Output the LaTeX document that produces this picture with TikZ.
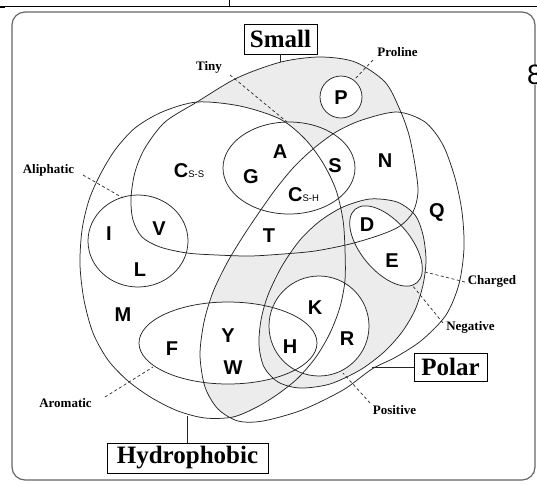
\documentclass[tikz,border=0pt]{standalone}
\usepackage{fontspec}
\setmainfont{Liberation Serif}
\newfontfamily\hv{Liberation Sans}
\definecolor{shadegray}{gray}{0.925}
\begin{document}
\begin{tikzpicture}[x=1pt,y=-1pt,
  outline/.style={draw=black!85,line width=0.75pt},
  aa/.style={font=\hv\bfseries\fontsize{20}{20}\selectfont,inner sep=0pt,text height=14.4pt,text depth=0pt},
  lbl/.style={font=\bfseries\fontsize{13}{13}\selectfont,inner sep=0pt},
  setbox/.style={draw=black,line width=0.8pt,font=\bfseries\fontsize{25}{25}\selectfont,inner sep=0pt},
  lead/.style={draw=black!85,line width=0.7pt,dash pattern=on 3pt off 2.5pt},
  conn/.style={draw=black!85,line width=0.8pt}]
\useasboundingbox (0,0) rectangle (537,483);

\def\pSmall{plot[smooth cycle] coordinates {(197,102) (237,78) (281,62) (320,57) (355,62) (385,82) (400,110) (409,135) (415,165) (418,192) (413,212) (400,226) (380,235) (350,244) (315,251) (283,254) (250,256) (217,255) (187,253) (160,247) (142,237) (133,220) (131,198) (135,172) (145,148) (165,122)}}
\def\pHydro{plot[smooth cycle] coordinates {(197,102) (240,106) (280,119) (305,139) (323,163) (336,190) (343,220) (345,250) (345,280) (340,307) (330,333) (316,357) (298,378) (278,394) (257,407) (233,417) (205,418) (178,411) (152,398) (128,381) (108,360) (93,333) (84,300) (80,265) (82,230) (89,200) (100,175) (115,150) (135,128) (162,112)}}
\def\pPolar{plot[smooth cycle] coordinates {(397,112) (425,122) (443,145) (455,178) (462,212) (464,248) (459,284) (446,315) (422,340) (396,357) (372,369) (343,390) (302,410) (263,421) (238,421) (218,409) (205,387) (200,355) (204,322) (213,292) (227,263) (242,238) (258,214) (275,190) (293,168) (313,149) (336,132) (362,120)}}
\def\pCharged{plot[smooth cycle] coordinates {(343,207) (370,199) (397,202) (415,215) (423,235) (426,260) (423,285) (415,310) (402,332) (384,352) (360,370) (330,384) (300,388) (278,382) (264,367) (259,345) (261,320) (268,295) (282,266) (300,240) (320,221)}}
\def\pPro{(341,97) circle (21)}
\def\pArom{(228,343) ellipse (89 and 41)}
\def\pPos{(319,326) circle (50)}
\def\pTiny{(289,168) ellipse (66 and 46)}
\def\pAli{(138,241) ellipse (50 and 46)}

% top rule and frame
\draw[line width=1pt] (0,6) -- (537,6);
\draw[line width=1pt] (229,0) -- (229,6);
\draw[line width=1pt] (0,7.5) -- (5,7.5);
\draw[black!60,line width=1.2pt,rounded corners=13pt] (12,12) rectangle (535,480);

% shaded (empty) regions
\begin{scope}
  \clip \pSmall;
  \fill[shadegray] (0,0) rectangle (537,483);
  \fill[white] \pHydro;
  \fill[white] \pPolar;
  \fill[white] \pPro;
\end{scope}
\begin{scope}
  \clip \pPolar;
  \fill[shadegray] \pHydro;
  \fill[white] \pSmall;
  \fill[white] \pArom;
  \fill[white] \pCharged;
\end{scope}
\fill[shadegray] \pCharged;
\fill[white] \pPos;
\fill[white,rotate around={-50:(386,246)}] (386,246) ellipse (48 and 25);

% outlines
\draw[outline] \pSmall;
\draw[outline] \pHydro;
\draw[outline] \pPolar;
\draw[outline] \pCharged;
\draw[outline] \pPro;
\draw[outline] \pArom;
\draw[outline] \pPos;
\draw[outline] \pTiny;
\draw[outline] \pAli;
\draw[outline,rotate around={-50:(386,246)}] (386,246) ellipse (48 and 25);

% amino acids
\node[aa] (P) at (341,97) {P};
\node[aa] (A) at (280,151) {A};
\node[aa] (S) at (335,165) {S};
\node[aa] (N) at (385,160) {N};
\node[aa] (G) at (251,176) {G};
\node[aa] (Css) at (189,170) {C{\mdseries\fontsize{9.5}{9.5}\selectfont S-S}};
\node[aa] (Csh) at (303.5,194) {C{\mdseries\fontsize{9.5}{9.5}\selectfont S-H}};
\node[aa] (T) at (269,235) {T};
\node[aa] (D) at (367,224) {D};
\node[aa] (E) at (392,260) {E};
\node[aa] (Q) at (437,210) {Q};
\node[aa] (I) at (109,233) {I};
\node[aa] (V) at (159,228) {V};
\node[aa] (L) at (140,269) {L};
\node[aa] (M) at (123,314) {M};
\node[aa] (F) at (172,348) {F};
\node[aa] (Y) at (228,335) {Y};
\node[aa] (W) at (233,367) {W};
\node[aa] (H) at (290,346) {H};
\node[aa] (K) at (315,307) {K};
\node[aa] (R) at (347,338) {R};

% set boxes
\node[setbox,minimum width=73pt,minimum height=30pt] (smallbox) at (280.5,39) {Small};
\node[setbox,minimum width=161pt,minimum height=30pt] (hydbox) at (187.5,458) {Hydrophobic};
\node[setbox,minimum width=73pt,minimum height=28pt] (polbox) at (450.5,367) {Polar};
\coordinate (smallpt) at (280.5,62);
\coordinate (hydpt) at (187.5,416);
\coordinate (polpt) at (372,367);
\draw[conn] (smallbox.south) -- (smallpt);
\draw[conn] (hydbox.north) -- (hydpt);
\draw[conn] (polbox.west) -- (polpt);

% small labels
\node[lbl] (prolab) at (397.5,52.5) {Proline};
\node[lbl] (tinylab) at (209,67) {Tiny};
\node[lbl] (alilab) at (48.5,170) {Aliphatic};
\node[lbl] (chglab) at (492,281.5) {Charged};
\node[lbl] (neglab) at (470.5,327) {Negative};
\node[lbl] (poslab) at (394.5,410) {Positive};
\node[lbl] (aromlab) at (65.5,403) {Aromatic};

\coordinate (proS) at (373,60);   \coordinate (proE) at (354,80);
\coordinate (tinyS) at (230,75);  \coordinate (tinyE) at (287,122);
\coordinate (aliS) at (83,175);   \coordinate (aliE) at (123,198);
\coordinate (chgS) at (465,282);  \coordinate (chgE) at (425,272);
\coordinate (negS) at (443,323);  \coordinate (negE) at (412,285);
\coordinate (posS) at (370,403);  \coordinate (posE) at (343,373);
\coordinate (aroS) at (105,397);  \coordinate (aroE) at (153,367);
\draw[lead] (proS) -- (proE);
\draw[lead] (tinyS) -- (tinyE);
\draw[lead] (aliS) -- (aliE);
\draw[lead] (chgS) -- (chgE);
\draw[lead] (negS) -- (negE);
\draw[lead] (posS) -- (posE);
\draw[lead] (aroS) -- (aroE);

% cut glyph at the right edge
\node[font=\hv\fontsize{28}{28}\selectfont,fill=white,inner sep=0.5pt] (eight) at (535,75) {8};
\end{tikzpicture}
\end{document}
